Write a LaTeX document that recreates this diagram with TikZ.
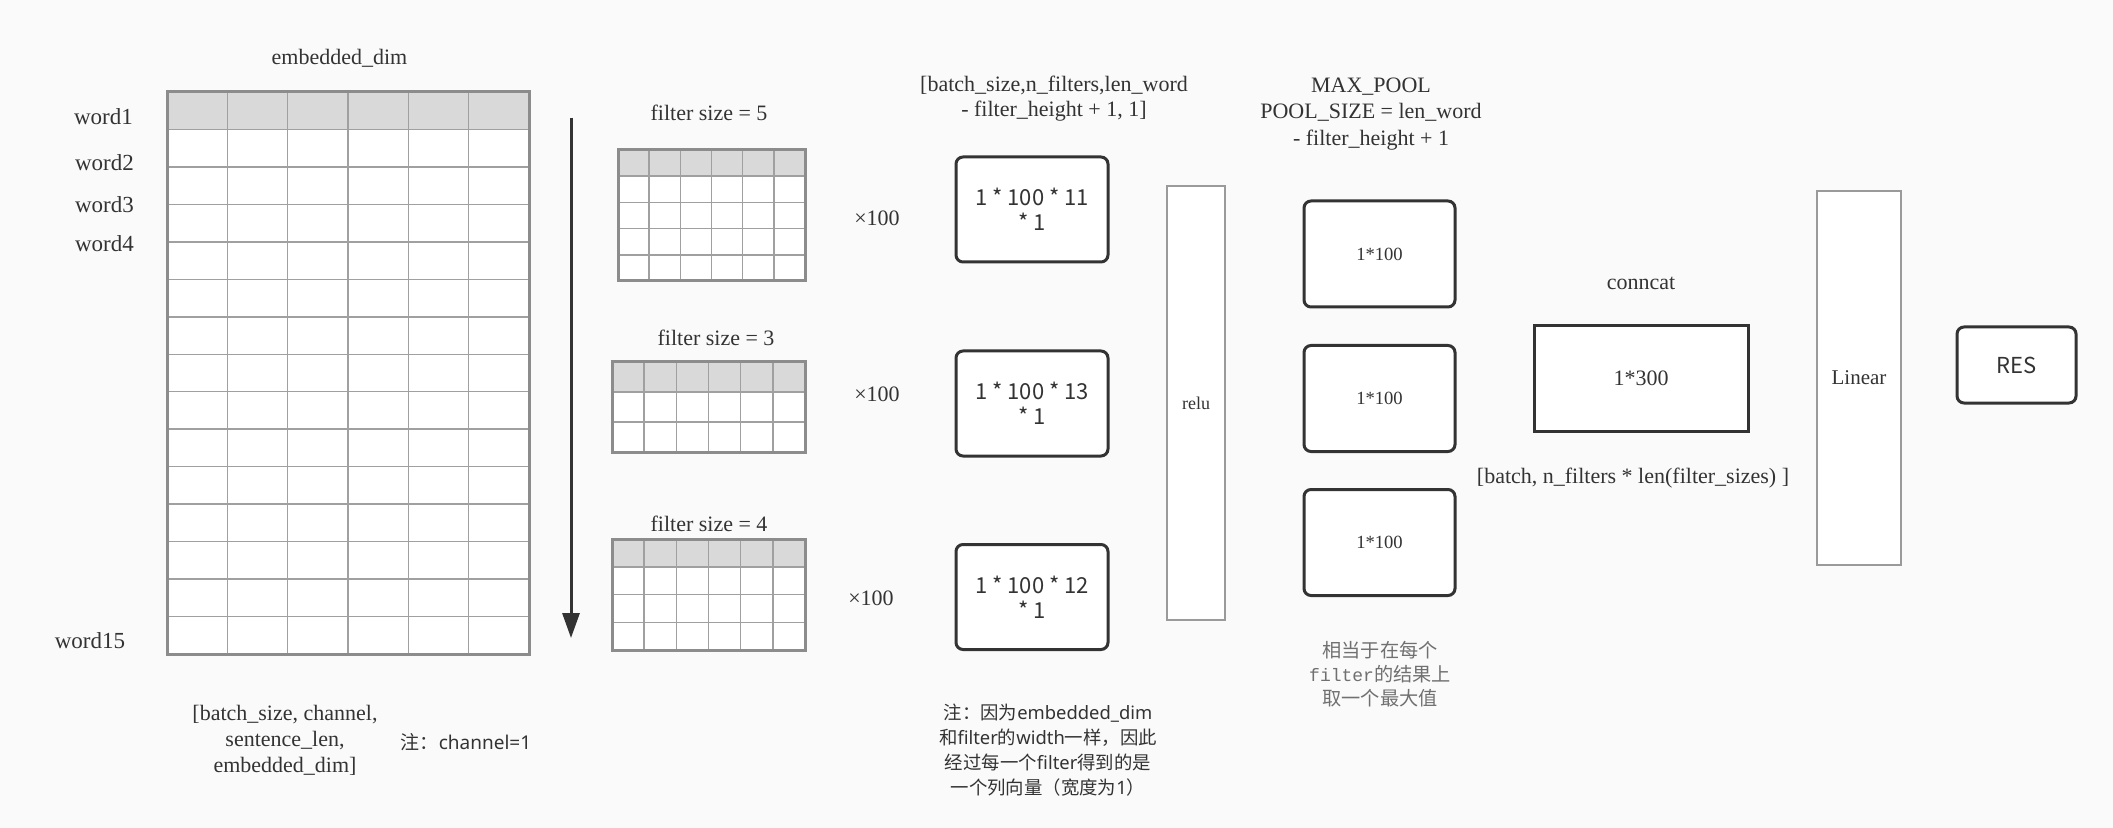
\documentclass[tikz,border=0pt]{standalone}
\usepackage{fontspec}
\setmainfont{Liberation Serif}
\setmonofont{Liberation Mono}
\newfontfamily\cjk{Noto Sans CJK SC}
\newfontfamily\lat{Noto Sans}
\usetikzlibrary{arrows.meta}

\definecolor{bggray}{HTML}{FAFAFA}
\definecolor{headgray}{HTML}{D9D9D9}
\definecolor{gridgray}{HTML}{8C8C8C}
\definecolor{cellgray}{HTML}{A0A0A0}
\definecolor{darkline}{HTML}{333333}
\definecolor{thingray}{HTML}{9A9A9A}
\definecolor{textdark}{HTML}{333333}
\definecolor{notegray}{HTML}{707070}

\tikzset{
  txt/.style={text=textdark, inner sep=0pt, align=center, font=\fontsize{11}{13.3}\selectfont},
  wordlbl/.style={txt, font=\fontsize{11.5}{13.3}\selectfont},
  cellline/.style={draw=cellgray, line width=0.75pt},
  gridborder/.style={draw=gridgray, line width=1.5pt},
  convbox/.style={draw=darkline, line width=1.5pt, fill=white, rounded corners=3.5pt,
    minimum width=76pt, minimum height=52.5pt, align=center, text=textdark,
    inner sep=0pt, font=\cjk\fontsize{11}{12.5}\selectfont},
  poolbox/.style={convbox, minimum width=75.5pt, minimum height=53pt,
    font=\fontsize{9.3}{11}\selectfont},
  catbox/.style={convbox, sharp corners, minimum width=107pt, minimum height=52.5pt,
    font=\fontsize{11}{13}\selectfont},
  layerbox/.style={draw=thingray, line width=0.75pt, fill=white, text=textdark, inner sep=0pt},
  resbox/.style={convbox, minimum width=59.5pt, minimum height=38pt},
  flowarrow/.style={draw=darkline, line width=1.5pt, -{Triangle[length=12.5pt,width=8.5pt]}},
}

\begin{document}
\begin{tikzpicture}[x=0.5pt, y=-0.5pt]
        % Фон
        \path[fill=bggray] (0,0) rectangle (2113,828);

        % Матрица слов и три фильтра
        \foreach \xa/\ya/\xb/\yb/\n in {167/92/529/654/15, 618/150/805/281/5,
                                        612/362/805/452/3, 612/539/805/650/4} {
            \pgfmathtruncatemacro{\m}{\n-1}
            \fill[white] (\xa,\ya) rectangle (\xb,\yb);
            \fill[headgray] (\xa,\ya) rectangle (\xb,{\ya+(\yb-\ya)/\n});
            \foreach \i in {1,...,5}
                \draw[cellline] ({\xa+\i*(\xb-\xa)/6},\ya) -- ({\xa+\i*(\xb-\xa)/6},\yb);
            \foreach \j in {1,...,\m}
                \draw[cellline] (\xa,{\ya+\j*(\yb-\ya)/\n}) -- (\xb,{\ya+\j*(\yb-\ya)/\n});
            \draw[gridborder] (\xa,\ya) rectangle (\xb,\yb);
        }

        % Подписи матрицы
        \node[txt] (embdim) at (339.5,58) {embedded\_dim};
        \node[wordlbl] (word1) at (103.5,117) {word1};
        \node[wordlbl] (word2) at (104.5,163) {word2};
        \node[wordlbl] (word3) at (104.5,205) {word3};
        \node[wordlbl] (word4) at (104.5,244) {word4};
        \node[wordlbl] (word15) at (90,641) {word15};
        \node[txt, font=\fontsize{11}{13}\selectfont] (inshape) at (285,740)
            {[batch\_size, channel,\\sentence\_len,\\embedded\_dim]};
        \node[txt, font=\cjk\fontsize{9.5}{12}\selectfont] (chnote) at (466,742)
            {注：{\lat channel=1}};

        % Стрелка вдоль слов
        \coordinate (arrtop) at (571,118);
        \coordinate (arrbot) at (571,638);
        \draw[flowarrow] (arrtop) -- (arrbot);

        % Фильтры
        \node[txt] (fs5) at (709,113) {filter size = 5};
        \node[txt] (fs3) at (716,338) {filter size = 3};
        \node[txt] (fs4) at (709,524) {filter size = 4};
        \node[txt] (times5) at (877,218) {×100};
        \node[txt] (times3) at (877,394) {×100};
        \node[txt] (times4) at (871,598) {×100};

        % Результат свёртки
        \node[txt, font=\fontsize{11}{12.5}\selectfont] (convshape) at (1054,99)
            {[batch\_size,n\_filters,len\_word\\- filter\_height + 1, 1]};
        \node[convbox] (conv5) at (1032,209.5) {1 * 100 * 11\\* 1};
        \node[convbox] (conv3) at (1032,403.5) {1 * 100 * 13\\* 1};
        \node[convbox] (conv4) at (1032,597) {1 * 100 * 12\\* 1};
        \node[txt, font=\cjk\fontsize{9.2}{12.5}\selectfont] (convnote) at (1048,750)
            {注：因为{\lat embedded\_dim}\\和{\lat filter}的{\lat width}一样，因此\\%
             经过每一个{\lat filter}得到的是\\一个列向量（宽度为{\lat 1}）};

        % relu
        \node[layerbox, minimum width=29pt, minimum height=217pt,
              font=\fontsize{9}{11}\selectfont] (relu) at (1196,403) {relu};

        % Пулинг
        \node[txt, font=\fontsize{11}{13.25}\selectfont] (poolhead) at (1371,114)
            {MAX\_POOL\\POOL\_SIZE = len\_word\\- filter\_height + 1};
        \node[poolbox] (pool5) at (1379.5,254) {1*100};
        \node[poolbox] (pool3) at (1379.5,398.5) {1*100};
        \node[poolbox] (pool4) at (1379.5,542.5) {1*100};
        \node[txt, text=notegray, font=\cjk\fontsize{9.6}{12}\selectfont] (poolnote) at (1380,674)
            {相当于在每个\\{\ttfamily\fontsize{9}{12}\selectfont filter}的结果上\\取一个最大值};

        % Склейка
        \node[txt] (cathead) at (1641,283) {conncat};
        \node[catbox] (cat) at (1641,378.5) {1*300};
        \node[txt] (catshape) at (1633,478) {[batch, n\_filters * len(filter\_sizes) ]};

        % Выход
        \node[layerbox, minimum width=42pt, minimum height=187pt,
              font=\fontsize{10.5}{12}\selectfont] (linear) at (1859,378) {Linear};
        \node[resbox] (res) at (2016.5,365) {RES};
    \end{tikzpicture}
\end{document}
